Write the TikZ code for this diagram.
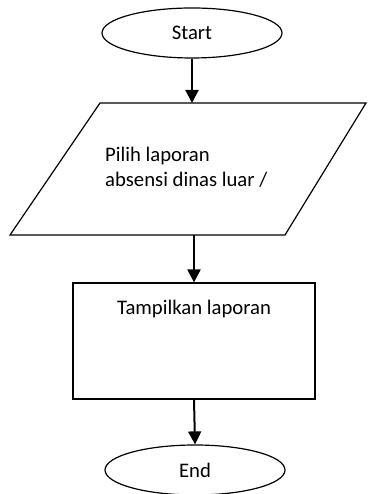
\documentclass[tikz,border=0pt]{standalone}
\usepackage{fontspec}
\setmainfont{Carlito}
\usetikzlibrary{shapes.geometric,arrows.meta,positioning}

\begin{document}
\begin{tikzpicture}[x=1pt,y=1pt,
    terminal/.style={draw, ellipse, line width=1.2pt, minimum width=180pt, minimum height=50pt, inner sep=0pt},
    process/.style={draw, rectangle, line width=1.2pt, minimum width=242pt, minimum height=116pt, inner sep=0pt},
    label/.style={inner sep=0pt, font=\fontsize{20.7}{25}\selectfont},
    flow/.style={line width=2pt, -{Triangle[length=13pt,width=13pt]}}]

    \useasboundingbox (0,0) rectangle (367,494);

    %% Flowchart laporan absensi

    % Start
    \node[terminal] (start) at (192,461) {};
    \node[label] (starttext) at (start) {Start};

    % Input
    \coordinate (intop) at (192,391);
    \coordinate (inbot) at (194,259);
    \draw[line width=1.2pt] (100,391) -- (366,391) -- (285,259) -- (10,259) -- cycle;
    \node[label, align=left, anchor=north west] (intext) at (105,347)
        {Pilih laporan\\absensi dinas luar /};

    % Process
    \node[process] (show) at (194,153) {};
    \node[label, anchor=base] (showtext) at (194,179) {Tampilkan laporan};

    % End
    \node[terminal] (end) at (195,24) {};
    \node[label] (endtext) at (end) {End};

    % Connectors
    \draw[flow] (start.south) -- (intop);
    \draw[flow] (inbot) -- (show.north);
    \draw[flow] (show.south) -- (end.north);

\end{tikzpicture}
\end{document}
